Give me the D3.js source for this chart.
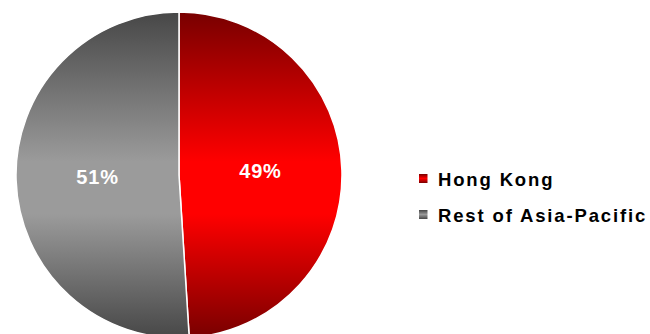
<!DOCTYPE html>
<html>
<head>
<meta charset="utf-8">
<script src="https://cdn.jsdelivr.net/npm/d3@7/dist/d3.min.js"></script>
<style>
  html, body { margin: 0; padding: 0; background: #fff; }
  svg { display: block; font-family: "Liberation Sans", Arial, sans-serif; }
</style>
</head>
<body>
<svg id="chart" width="650" height="334"></svg>
<script>
// Share of total by region
const categories = ["Hong Kong", "Rest of Asia-Pacific"];
const shares = [49, 51];
const labels = ["49%", "51%"];

// Each slice is shaded dark-bright-dark from top to bottom
const palettes = [
  { edge: "#780000", mid: "#ff0000" },
  { edge: "#474747", mid: "#9b9b9b" }
];

const svg = d3.select("#chart");
const cx = 179, cy = 175, radius = 163;

const defs = svg.append("defs");
palettes.forEach((p, i) => {
  // slice gradient, in the pie group's coordinates (centre at 0,0)
  const g = defs.append("linearGradient")
    .attr("id", "slice-grad-" + i)
    .attr("gradientUnits", "userSpaceOnUse")
    .attr("x1", 0).attr("x2", 0)
    .attr("y1", -radius).attr("y2", radius);
  g.append("stop").attr("offset", "0%").attr("stop-color", p.edge);
  g.append("stop").attr("offset", "46%").attr("stop-color", p.mid);
  g.append("stop").attr("offset", "62%").attr("stop-color", p.mid);
  g.append("stop").attr("offset", "100%").attr("stop-color", p.edge);

  const s = defs.append("linearGradient")
    .attr("id", "swatch-grad-" + i)
    .attr("x1", 0).attr("x2", 0).attr("y1", 0).attr("y2", 1);
  s.append("stop").attr("offset", "0%").attr("stop-color", p.edge);
  s.append("stop").attr("offset", "50%").attr("stop-color", p.mid);
  s.append("stop").attr("offset", "100%").attr("stop-color", p.edge);
});

const pie = d3.pie().sort(null).value(d => d);
const arcs = pie(shares);
const arc = d3.arc().innerRadius(0).outerRadius(radius);
const labelArc = d3.arc().innerRadius(radius * 0.5).outerRadius(radius * 0.5);

const g = svg.append("g").attr("transform", `translate(${cx},${cy})`);

g.selectAll("path.slice")
  .data(arcs)
  .join("path")
  .attr("class", "slice")
  .attr("d", arc)
  .attr("fill", (d, i) => `url(#slice-grad-${i})`)
  .attr("stroke", "#ffffff")
  .attr("stroke-width", 1.5)
  .attr("stroke-linejoin", "round");

g.selectAll("text.pct")
  .data(arcs)
  .join("text")
  .attr("class", "pct")
  .attr("x", d => labelArc.centroid(d)[0])
  .attr("y", d => labelArc.centroid(d)[1] + 6)
  .attr("text-anchor", "middle")
  .attr("fill", "#ffffff")
  .attr("font-weight", "bold")
  .attr("font-size", 20)
  .attr("letter-spacing", 0.8)
  .text((d, i) => labels[i]);

// Legend
const legend = svg.append("g").attr("transform", "translate(419,174)");
const rowH = 36;
const item = legend.selectAll("g.item")
  .data(categories)
  .join("g")
  .attr("class", "item")
  .attr("transform", (d, i) => `translate(0,${i * rowH})`);

item.append("rect")
  .attr("width", 8.5).attr("height", 9)
  .attr("fill", (d, i) => `url(#swatch-grad-${i})`);

item.append("text")
  .attr("x", 19)
  .attr("y", 12)
  .attr("font-weight", "bold")
  .attr("font-size", 18.5)
  .attr("letter-spacing", 1.85)
  .attr("fill", "#000")
  .text(d => d);
</script>
</body>
</html>
